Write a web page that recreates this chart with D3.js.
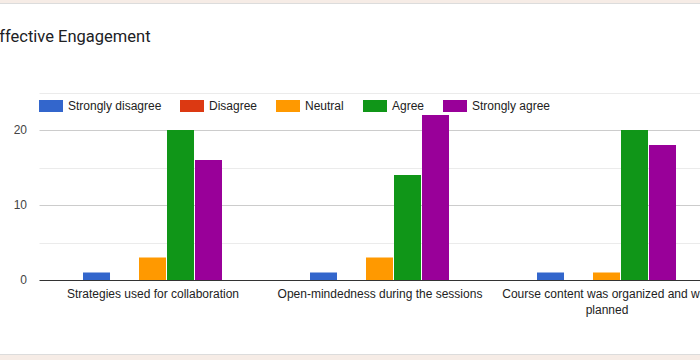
<!DOCTYPE html>
<html>
<head>
<meta charset="utf-8">
<script src="https://cdn.jsdelivr.net/npm/d3@7"></script>
<style>
html,body{margin:0;padding:0;overflow:hidden;background:#fff;}
svg{display:block;}
</style>
</head>
<body>
<script>
const categories = ["Strategies used for collaboration", "Open-mindedness during the sessions", "Course content was organized and well planned"];
const categoryLines = [["Strategies used for collaboration"], ["Open-mindedness during the sessions"], ["Course content was organized and well", "planned"]];
const series = ["Strongly disagree", "Disagree", "Neutral", "Agree", "Strongly agree"];
const colors = ["#3366cc", "#dc3912", "#ff9900", "#109618", "#990099"];
const stronglyDisagree = [1, 1, 1];
const disagree = [0, 0, 0];
const neutral = [3, 3, 1];
const agree = [20, 14, 20];
const stronglyAgree = [16, 22, 18];
const yTicks = [0, 10, 20];
const yGrid = [5, 10, 15, 20, 25];
const title = "Affective Engagement";

const values = [stronglyDisagree, disagree, neutral, agree, stronglyAgree];

const W = 700, H = 360;
const svg = d3.select("body").append("svg").attr("width", W).attr("height", H);

// frame
svg.append("rect").attr("x", 0).attr("y", 0).attr("width", W).attr("height", 3).attr("fill", "#f6ece6");
svg.append("rect").attr("x", 0).attr("y", 3).attr("width", W).attr("height", 1).attr("fill", "#dcdcdc");
svg.append("rect").attr("x", 0).attr("y", 355).attr("width", W).attr("height", 5).attr("fill", "#f6ece6");
svg.append("rect").attr("x", 0).attr("y", 354).attr("width", W).attr("height", 1).attr("fill", "#dcdcdc");

svg.append("text").attr("x", -11.5).attr("y", 41.5)
  .attr("font-family", "Roboto, Arial, sans-serif").attr("font-size", 16.5)
  .attr("fill", "#202124").text(title);

const left = 39.5, right = 720.5;
const x0 = d3.scaleBand().domain(categories).range([left, right]).paddingInner(0.3833).paddingOuter(0.3833 / 2);
const x1 = d3.scaleBand().domain(series).range([0, x0.bandwidth()]);
const y = d3.scaleLinear().domain([0, 25]).range([280, 92.5]);

// gridlines
svg.append("g").selectAll("line").data(yGrid).join("line")
  .attr("x1", left).attr("x2", W).attr("y1", d => Math.round(y(d)) + 0.5).attr("y2", d => Math.round(y(d)) + 0.5)
  .attr("stroke", d => d % 10 === 0 ? "#cccccc" : "#ebebeb").attr("stroke-width", 1);

// y tick labels
svg.append("g").selectAll("text").data(yTicks).join("text")
  .attr("x", 27).attr("y", d => y(d) + 4)
  .attr("text-anchor", "end").attr("font-family", "Arial, 'Liberation Sans', sans-serif").attr("font-size", 12)
  .attr("fill", "#444").text(d => d);

// bars
const g = svg.append("g");
categories.forEach((c, ci) => {
  series.forEach((s, si) => {
    const v = values[si][ci];
    if (v <= 0) return;
    g.append("rect")
      .attr("x", x0(c) + x1(s))
      .attr("y", y(v))
      .attr("width", x1.bandwidth() - 1)
      .attr("height", y(0) - y(v))
      .attr("fill", colors[si]);
  });
});

// baseline
svg.append("line").attr("x1", left).attr("x2", W).attr("y1", 280.5).attr("y2", 280.5)
  .attr("stroke", "#333").attr("stroke-width", 1);

// category labels
categories.forEach((c, ci) => {
  const t = svg.append("text").attr("text-anchor", "middle")
    .attr("font-family", "Arial, 'Liberation Sans', sans-serif").attr("font-size", 12).attr("fill", "#222");
  categoryLines[ci].forEach((line, li) => {
    t.append("tspan").attr("x", x0(c) + x0.bandwidth() / 2).attr("y", 298 + li * 16).text(line);
  });
});

// legend
const legendX = [39, 180, 276, 363, 443];
const lg = svg.append("g");
series.forEach((s, i) => {
  lg.append("rect").attr("x", legendX[i]).attr("y", 100).attr("width", 24).attr("height", 12)
    .attr("fill", colors[i]);
  lg.append("text").attr("x", legendX[i] + 29).attr("y", 110)
    .attr("font-family", "Arial, 'Liberation Sans', sans-serif").attr("font-size", 12)
    .attr("fill", "#222").text(s);
});
</script>
</body>
</html>
